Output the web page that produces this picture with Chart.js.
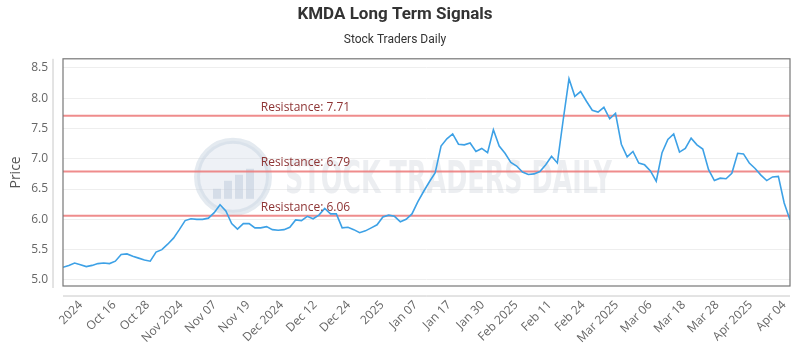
<!DOCTYPE html>
<html>
<head>
<meta charset="utf-8">
<script src="https://cdn.jsdelivr.net/npm/chart.js@4.4.1/dist/chart.umd.min.js"></script>
<style>
  html, body { margin: 0; padding: 0; background: #fff; }
  #wrap { width: 800px; height: 350px; }
</style>
</head>
<body>
<div id="wrap"><canvas id="kmda"></canvas></div>
<script>
  // closing prices, one per trading day
  const prices = [
    5.21, 5.24, 5.28, 5.25, 5.22, 5.24, 5.27, 5.28, 5.27, 5.31,
    5.42, 5.43, 5.39, 5.36, 5.33, 5.31, 5.46, 5.50, 5.59, 5.69,
    5.83, 5.98, 6.01, 6.00, 6.00, 6.02, 6.11, 6.24, 6.14, 5.93,
    5.84, 5.93, 5.93, 5.86, 5.86, 5.88, 5.83, 5.82, 5.83, 5.87,
    5.99, 5.98, 6.05, 6.01, 6.07, 6.18, 6.09, 6.09, 5.86, 5.87,
    5.83, 5.78, 5.81, 5.86, 5.91, 6.04, 6.07, 6.05, 5.96, 6.00,
    6.09, 6.29, 6.46, 6.62, 6.77, 7.21, 7.33, 7.41, 7.24, 7.23,
    7.26, 7.12, 7.17, 7.10, 7.48, 7.21, 7.09, 6.94, 6.88, 6.78,
    6.74, 6.75, 6.79, 6.90, 7.04, 6.93, 7.64, 8.32, 8.03, 8.11,
    7.95, 7.80, 7.77, 7.85, 7.66, 7.75, 7.24, 7.03, 7.12, 6.93,
    6.90, 6.80, 6.63, 7.10, 7.32, 7.41, 7.11, 7.17, 7.34, 7.23,
    7.16, 6.82, 6.64, 6.68, 6.67, 6.76, 7.09, 7.08, 6.93, 6.84,
    6.73, 6.64, 6.70, 6.71, 6.27, 5.99
  ];

  const resistances = [7.71, 6.79, 6.06];

  const tickLabels = [
    '2024', 'Oct 16', 'Oct 28', 'Nov 2024', 'Nov 07', 'Nov 19', 'Dec 2024',
    'Dec 12', 'Dec 24', '2025', 'Jan 07', 'Jan 17', 'Jan 30', 'Feb 2025',
    'Feb 11', 'Feb 24', 'Mar 2025', 'Mar 06', 'Mar 18', 'Mar 28',
    'Apr 2025', 'Apr 04'
  ];
  const tickFirst = 3.05;   // index of the first date tick
  const tickStep = 5.76;    // indices between date ticks

  const yTicks = [5.0, 5.5, 6.0, 6.5, 7.0, 7.5, 8.0, 8.5];

  const lastIdx = prices.length - 1;

  // faint watermark behind the line
  const watermark = {
    id: 'watermark',
    beforeDatasetsDraw(chart) {
      const ctx = chart.ctx, a = chart.chartArea;
      const cx = a.left + 170, cy = a.top + 118;
      ctx.save();
      ctx.fillStyle = 'rgba(205,215,228,0.35)';
      ctx.strokeStyle = 'rgba(195,208,222,0.45)';
      ctx.lineWidth = 6;
      ctx.beginPath();
      ctx.arc(cx, cy, 36, 0, Math.PI * 2);
      ctx.fill();
      ctx.stroke();
      ctx.fillStyle = 'rgba(185,198,214,0.45)';
      [[-20, 10], [-9, 18], [2, 24], [13, 30]].forEach(([dx, h]) => {
        ctx.fillRect(cx + dx, cy + 22 - h, 8, h);
      });
      ctx.font = 'bold 40px "DejaVu Sans Condensed", "Liberation Sans Narrow", sans-serif';
      ctx.textBaseline = 'middle';
      const txt = 'STOCK TRADERS DAILY';
      const w = ctx.measureText(txt).width;
      const target = 327;
      ctx.translate(a.left + 222, cy + 5);
      ctx.scale(target / w, 1.1);
      ctx.fillStyle = 'rgba(200,206,214,0.35)';
      ctx.fillText(txt, 0, 0);
      ctx.restore();
    }
  };

  // plot frame, offset axis lines and resistance captions
  const decor = {
    id: 'decor',
    afterDatasetsDraw(chart) {
      const ctx = chart.ctx, a = chart.chartArea;
      const xs = chart.scales.x, ys = chart.scales.y;
      ctx.save();
      ctx.font = '12px "Open Sans", sans-serif';
      ctx.fillStyle = '#8e3434';
      ctx.textBaseline = 'alphabetic';
      resistances.forEach(r => {
        ctx.fillText('Resistance: ' + r.toFixed(2), xs.getPixelForValue(34), ys.getPixelForValue(r) - 5);
      });
      ctx.strokeStyle = '#777';
      ctx.lineWidth = 1.2;
      ctx.strokeRect(a.left, a.top, a.right - a.left, a.bottom - a.top);
      ctx.strokeStyle = '#c8c8c8';
      ctx.lineWidth = 1;
      ctx.beginPath();
      ctx.moveTo(a.left - 10, a.top);
      ctx.lineTo(a.left - 10, a.bottom + 2);
      ctx.moveTo(a.left, a.bottom + 10);
      ctx.lineTo(a.right, a.bottom + 10);
      ctx.stroke();
      ctx.restore();
    }
  };

  const resistanceSets = resistances.map(r => ({
    data: [{ x: 0, y: r }, { x: lastIdx, y: r }],
    borderColor: 'rgba(236,120,120,0.85)',
    borderWidth: 2,
    pointRadius: 0,
    fill: false
  }));

  new Chart(document.getElementById('kmda'), {
    type: 'line',
    data: {
      datasets: [{
        label: 'Price',
        data: prices.map((p, i) => ({ x: i, y: p })),
        borderColor: '#3da1e6',
        borderWidth: 1.6,
        pointRadius: 0,
        tension: 0,
        fill: false
      }].concat(resistanceSets)
    },
    options: {
      responsive: true,
      maintainAspectRatio: false,
      animation: false,
      layout: { padding: { left: 0, right: 10, top: 0, bottom: 0 } },
      plugins: {
        legend: { display: false },
        tooltip: { enabled: false },
        title: {
          display: true,
          text: 'KMDA Long Term Signals',
          color: '#333',
          font: { family: 'Roboto', size: 17, weight: 'bold' },
          padding: { top: 5, bottom: 7 }
        },
        subtitle: {
          display: true,
          text: 'Stock Traders Daily',
          color: '#333',
          font: { family: 'Roboto', size: 12 },
          padding: { top: 0, bottom: 12 }
        }
      },
      scales: {
        x: {
          type: 'linear',
          min: 0,
          max: lastIdx,
          grid: { display: false, drawTicks: false },
          border: { display: false },
          afterBuildTicks: s => { s.ticks = tickLabels.map((t, i) => ({ value: tickFirst + i * tickStep })); },
          afterFit: s => { s.height = 64; s.paddingLeft = 0; s.paddingRight = 0; },
          ticks: {
            autoSkip: false,
            minRotation: 45,
            maxRotation: 45,
            padding: 12,
            color: '#666',
            font: { family: 'Open Sans', size: 12 },
            callback: (v, i) => tickLabels[i]
          }
        },
        y: {
          min: 4.9,
          max: 8.65,
          grid: { color: '#eeeeee', drawTicks: false },
          border: { display: false },
          afterBuildTicks: s => { s.ticks = yTicks.map(v => ({ value: v })); },
          afterFit: s => { s.width = 63; },
          title: {
            display: true,
            text: 'Price',
            color: '#555',
            font: { family: 'Open Sans', size: 14 },
            padding: { top: 8, bottom: 4 }
          },
          ticks: {
            padding: 15,
            color: '#666',
            font: { family: 'Open Sans', size: 12 },
            callback: v => v.toFixed(1)
          }
        }
      }
    },
    plugins: [watermark, decor]
  });
</script>
</body>
</html>
